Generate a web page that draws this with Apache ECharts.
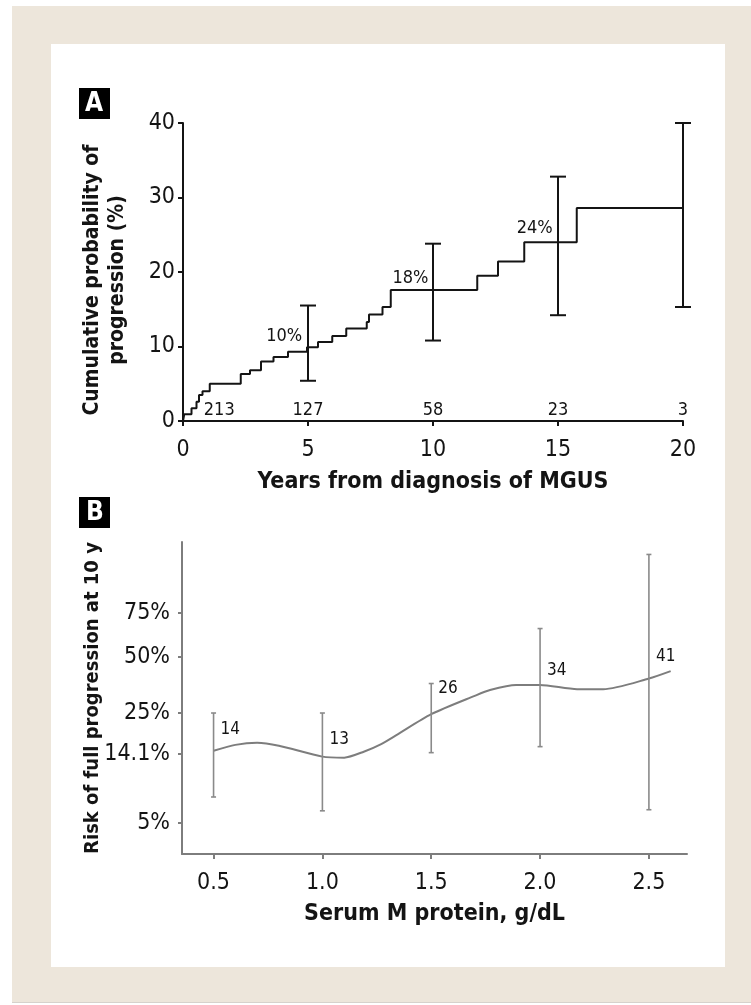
<!DOCTYPE html>
<html>
<head>
<meta charset="utf-8">
<script src="https://cdn.jsdelivr.net/npm/echarts@6/dist/echarts.min.js"></script>
<style>
  html, body { margin: 0; padding: 0; background: #ffffff; }
  #beige { position: absolute; left: 12px; top: 6px; width: 739px; height: 996px; background: #ede6db; border-bottom: 1px solid #d6d2cc; }
  #panel { position: absolute; left: 51px; top: 44px; width: 674px; height: 923px; background: #ffffff; }
  #chart { position: absolute; left: 0; top: 0; width: 751px; height: 1005px; }
</style>
</head>
<body>
<div id="beige"></div>
<div id="panel"></div>
<div id="chart"></div>
<script>
// ---------- Panel A: cumulative probability of progression ----------
const kmYears = [0, 0.05, 0.34, 0.54, 0.64, 0.78, 1.07, 2.31, 2.68, 3.12, 3.62, 4.20, 4.96, 5.40, 5.97, 6.53, 7.35, 7.44, 7.98, 8.31, 11.77, 12.60, 13.65, 15.75, 20];
const kmProb  = [0, 0.9, 1.7, 2.6, 3.5, 4.0, 5.0, 6.3, 6.8, 8.0, 8.6, 9.3, 9.9, 10.6, 11.4, 12.4, 13.3, 14.3, 15.3, 17.6, 19.5, 21.4, 24.0, 28.6, 28.6];
const ciYears = [5, 10, 15, 20];
const ciLow   = [5.4, 10.8, 14.2, 15.3];
const ciHigh  = [15.5, 23.8, 32.8, 40.0];
const pctLabels = ['10%', '18%', '24%'];
const pctLabelX = [4.05, 9.1, 14.07];
const pctLabelY = [11.3, 19.2, 25.8];
const atRisk  = ['213', '127', '58', '23', '3'];
const atRiskX = [1.45, 5, 10, 15, 20];
const atRiskY = 1.45;

// ---------- Panel B: risk of full progression at 10 y ----------
const mProtein = [0.50, 0.60, 0.70, 0.80, 1.00, 1.10, 1.19, 1.27, 1.34, 1.50, 1.70, 1.77, 1.89, 2.00, 2.17, 2.29, 2.50, 2.60];
const riskPct  = [14.7, 16.0, 16.5, 15.8, 13.5, 13.3, 14.5, 16.2, 18.4, 24.6, 31.4, 33.8, 36.0, 36.0, 34.2, 34.2, 39.0, 42.6];
const barX     = [0.5, 1.0, 1.5, 2.0, 2.5];
const barLow   = [7.4, 6.0, 14.3, 15.6, 6.1];
const barHigh  = [25.0, 25.0, 36.7, 66.2, 96.9];
const nLabels  = ['14', '13', '26', '34', '41'];
const nLabelY  = [19.9, 17.3, 34.5, 43.1, 50.5];
const yTickPct = [5, 14.1, 25, 50, 75];
const yTickLabels = ['5%', '14.1%', '25%', '50%', '75%'];
const xTicksB  = [0.5, 1.0, 1.5, 2.0, 2.5];

// complementary log-log transform used by the risk axis
const cll = p => Math.log(-Math.log(1 - p / 100));
const yTickVals = yTickPct.map(cll);

const FONT = '"Liberation Sans Narrow", "DejaVu Sans Condensed", sans-serif';
const INK = '#141414';
const GREY = '#7d7d7d';

const chart = echarts.init(document.getElementById('chart'), null, { renderer: 'canvas' });

function textItem(xs, ys, texts, xi, align, dx, size) {
  return {
    type: 'custom', xAxisIndex: xi, yAxisIndex: xi, silent: true, z: 5,
    data: xs.map((x, i) => [x, ys[i]]),
    renderItem: (params, api) => {
      const p = api.coord([api.value(0), api.value(1)]);
      return {
        type: 'text', x: p[0] + dx, y: p[1],
        style: { text: texts[params.dataIndex], font: size + 'px ' + FONT, fill: INK, align: align, verticalAlign: 'middle' }
      };
    }
  };
}

function errorBars(xs, lo, hi, xi, half, color, width) {
  return {
    type: 'custom', xAxisIndex: xi, yAxisIndex: xi, silent: true, z: 4,
    data: xs.map((x, i) => [x, lo[i], hi[i]]),
    renderItem: (params, api) => {
      const a = api.coord([api.value(0), api.value(1)]);
      const b = api.coord([api.value(0), api.value(2)]);
      const st = { stroke: color, lineWidth: width };
      return {
        type: 'group', children: [
          { type: 'line', shape: { x1: a[0], y1: a[1], x2: b[0], y2: b[1] }, style: st },
          { type: 'line', shape: { x1: a[0] - half, y1: a[1], x2: a[0] + half, y2: a[1] }, style: st },
          { type: 'line', shape: { x1: b[0] - half, y1: b[1], x2: b[0] + half, y2: b[1] }, style: st }
        ]
      };
    }
  };
}

const option = {
  animation: false,
  backgroundColor: 'transparent',
  grid: [
    { left: 183, top: 123, width: 500, height: 298, containLabel: false },
    { left: 182, top: 542, width: 505, height: 312, containLabel: false }
  ],
  xAxis: [
    {
      gridIndex: 0, type: 'value', min: 0, max: 20, interval: 5,
      axisLine: { show: true, onZero: false, lineStyle: { color: INK, width: 2 } },
      axisTick: { show: true, length: 5, lineStyle: { color: INK, width: 2 } },
      axisLabel: { color: INK, fontSize: 23, fontFamily: FONT, margin: 18 },
      splitLine: { show: false },
      name: 'Years from diagnosis of MGUS', nameLocation: 'middle', nameGap: 50,
      nameTextStyle: { color: INK, fontSize: 23, fontWeight: 'bold', fontFamily: FONT }
    },
    {
      gridIndex: 1, type: 'value', min: 0.355, max: 2.675,
      axisLine: { show: true, onZero: false, lineStyle: { color: GREY, width: 2 } },
      axisTick: { show: true, length: 5, customValues: xTicksB, lineStyle: { color: GREY, width: 2 } },
      axisLabel: { color: INK, fontSize: 23, fontFamily: FONT, margin: 18, customValues: xTicksB,
                   formatter: v => v.toFixed(1) },
      splitLine: { show: false },
      name: 'Serum M protein, g/dL', nameLocation: 'middle', nameGap: 49,
      nameTextStyle: { color: INK, fontSize: 23, fontWeight: 'bold', fontFamily: FONT }
    }
  ],
  yAxis: [
    {
      gridIndex: 0, type: 'value', min: 0, max: 40, interval: 10,
      axisLine: { show: true, onZero: false, lineStyle: { color: INK, width: 2 } },
      axisTick: { show: true, length: 5, lineStyle: { color: INK, width: 2 } },
      axisLabel: { color: INK, fontSize: 23, fontFamily: FONT, margin: 8 },
      splitLine: { show: false },
      name: 'Cumulative probability of\nprogression (%)', nameLocation: 'middle', nameGap: 53,
      nameTextStyle: { color: INK, fontSize: 21, fontWeight: 'bold', fontFamily: FONT, lineHeight: 25,
                       padding: [0, 16, 0, 0] }
    },
    {
      gridIndex: 1, type: 'value', min: -3.461, max: 1.441,
      axisLine: { show: true, onZero: false, lineStyle: { color: GREY, width: 2 } },
      axisTick: { show: true, length: 4, customValues: yTickVals, lineStyle: { color: GREY, width: 2 } },
      axisLabel: { color: INK, fontSize: 23, fontFamily: FONT, margin: 12, customValues: yTickVals,
                   formatter: v => {
                     let best = 0;
                     yTickVals.forEach((t, i) => { if (Math.abs(t - v) < Math.abs(yTickVals[best] - v)) best = i; });
                     return yTickLabels[best];
                   } },
      splitLine: { show: false },
      name: 'Risk of full progression at 10 y', nameLocation: 'middle', nameGap: 79, nameMoveOverlap: false,
      nameTextStyle: { color: INK, fontSize: 20, fontWeight: 'bold', fontFamily: FONT }
    }
  ],
  series: [
    {
      type: 'line', xAxisIndex: 0, yAxisIndex: 0, step: 'end', symbol: 'none', z: 3,
      data: kmYears.map((t, i) => [t, kmProb[i]]),
      lineStyle: { color: INK, width: 2 }
    },
    errorBars(ciYears, ciLow, ciHigh, 0, 8, INK, 2),
    textItem(pctLabelX, pctLabelY, pctLabels, 0, 'center', 0, 18),
    textItem(atRiskX, atRiskX.map(() => atRiskY), atRisk, 0, 'center', 0, 18),
    {
      type: 'line', xAxisIndex: 1, yAxisIndex: 1, symbol: 'none', smooth: 0.25, z: 3,
      data: mProtein.map((x, i) => [x, cll(riskPct[i])]),
      lineStyle: { color: GREY, width: 2 }
    },
    errorBars(barX, barLow.map(cll), barHigh.map(cll), 1, 2.5, '#8a8a8a', 1.6),
    textItem(barX, nLabelY.map(cll), nLabels, 1, 'left', 7, 17)
  ],
  graphic: [
    { type: 'rect', left: 79, top: 88, shape: { width: 31, height: 31 }, style: { fill: '#000' } },
    { type: 'text', left: 85, top: 91, style: { text: 'A', font: 'bold 26px ' + FONT, fill: '#fff' } },
    { type: 'rect', left: 79, top: 497, shape: { width: 31, height: 31 }, style: { fill: '#000' } },
    { type: 'text', left: 86, top: 500, style: { text: 'B', font: 'bold 26px ' + FONT, fill: '#fff' } }
  ]
};
chart.setOption(option);
</script>
</body>
</html>
